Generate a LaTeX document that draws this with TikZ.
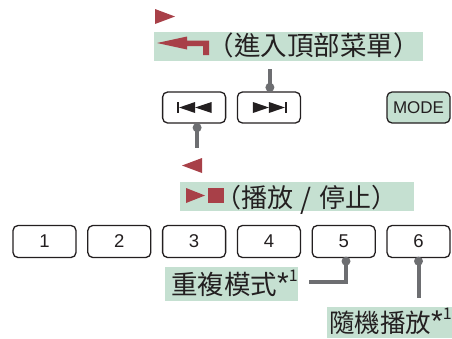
\documentclass[tikz,border=0pt]{standalone}
\usepackage{fontspec}
\setmainfont{Liberation Sans}
\newfontfamily\cjk{Noto Sans CJK TC}
\usetikzlibrary{calc}
\definecolor{barGreen}{RGB}{197,224,209}
\definecolor{markRed}{RGB}{168,64,72}
\definecolor{linkGray}{RGB}{109,110,113}
\definecolor{inkDark}{RGB}{35,31,32}
\newcommand\footone{{\fontspec{Liberation Sans}\fontsize{30}{30}\selectfont\raisebox{1pt}{*}}\raisebox{12.5pt}{\fontsize{16}{16}\selectfont 1}}
\newcommand\midslash{\makebox[26pt]{\fontsize{28}{28}\selectfont\raisebox{-1.5pt}{/}}}
\begin{document}
\begin{tikzpicture}[x=1pt,y=-1pt,
  keybox/.style={draw=inkDark, line width=1.3pt, rounded corners=5pt,
    minimum width=63pt, minimum height=31pt, inner sep=0pt,
    font=\fontsize{18.5}{18.5}\selectfont, text=inkDark},
  greenbar/.style={fill=barGreen, inner sep=0pt},
  cjklabel/.style={font=\cjk\fontsize{26.5}{26.5}\selectfont, text=inkDark,
    inner sep=0pt, anchor=base west},
  link/.style={draw=linkGray, line width=4pt},
  redmark/.style={fill=markRed}
]
\useasboundingbox (0,0) rectangle (452,338);

% green bars
\node[greenbar, minimum width=269pt, minimum height=29pt] (topbar) at (288.5,46.5) {};
\node[greenbar, minimum width=234pt, minimum height=29pt] (botbar) at (297,196.5) {};
\node[greenbar, minimum width=133pt, minimum height=34pt] (lab5) at (231.5,284) {};
\node[greenbar, minimum width=127pt, minimum height=31pt] (lab6) at (390.5,322.5) {};

% texts
\node[cjklabel] (toptext) at (207.5,55.5) {（進入頂部菜單）};
\node[cjklabel, font=\cjk\fontsize{26}{26}\selectfont] (bottext) at (215,207.5) {（播放\midslash 停止）};
\node[cjklabel] (lab5t) at (171,294) {重複模式\footone};
\node[cjklabel, font=\cjk\fontsize{25.5}{25.5}\selectfont] (lab6t) at (329,332) {隨機播放\footone};

% red marks
\fill[redmark] (155,9) -- (155,24) -- (175,16.5) -- cycle;
\fill[redmark] (202,158) -- (202,173) -- (182,165.5) -- cycle;
\fill[redmark] (157,43) -- (187,36.5) -- (187,40.5) -- (209,40.5) -- (209,55)
  -- (203,55) -- (203,46) -- (187,46) -- (187,49.5) -- cycle;
\fill[redmark] (186,188) -- (186,203) -- (205,195.5) -- cycle;
\fill[redmark] (208,188) rectangle (224,203);

% top row keys
\node[keybox] (prev) at (194.1,107.5) {};
\node[keybox] (next) at (268.9,107.5) {};
\node[keybox, fill=barGreen, font=\fontsize{17}{17}\selectfont] (mode) at (418.5,107.5) {MODE};

% icons
\begin{scope}[shift={(prev.center)}]
  \fill[inkDark] (-17.5,-5.5) rectangle (-15,5.5);
  \fill[inkDark] (-15,0) -- (1,-5.5) -- (1,5.5) -- cycle;
  \fill[inkDark] (1,0) -- (17.5,-5.5) -- (17.5,5.5) -- cycle;
\end{scope}
\begin{scope}[shift={(next.center)}]
  \fill[inkDark] (-16,-5.5) -- (0,0) -- (-16,5.5) -- cycle;
  \fill[inkDark] (0,-5.5) -- (16,0) -- (0,5.5) -- cycle;
  \fill[inkDark] (16,-5.5) rectangle (18.5,5.5);
\end{scope}

% number keys
\foreach \i in {1,...,6} {
  \node[keybox, minimum height=32pt] (b\i) at ({44.5+74.8*(\i-1)},241.5) {\i};
}

% connectors
\coordinate (nextEnd) at ($(topbar.south -| next.north)+(1,8)$);
\draw[link] ($(next.north)+(1,-4)$) -- (nextEnd);
\fill[linkGray] ($(next.north)+(1,-4)$) circle (4.5);

\coordinate (prevEnd) at ($(prev.south)+(3,24)$);
\draw[link] ($(prev.south)+(3,4)$) -- (prevEnd);
\fill[linkGray] ($(prev.south)+(3,4)$) circle (4.5);

\coordinate (c5) at ($(lab5.east)+(11,-2)$);
\draw[link] ($(b5.south)+(2.3,3)$) |- (c5);
\fill[linkGray] ($(b5.south)+(2.3,3)$) circle (4.5);

\coordinate (c6) at ($(b6.south |- lab6.north)+(0,-9)$);
\draw[link] ($(b6.south)+(0,3)$) -- (c6);
\fill[linkGray] ($(b6.south)+(0,3)$) circle (4.5);
\end{tikzpicture}
\end{document}
